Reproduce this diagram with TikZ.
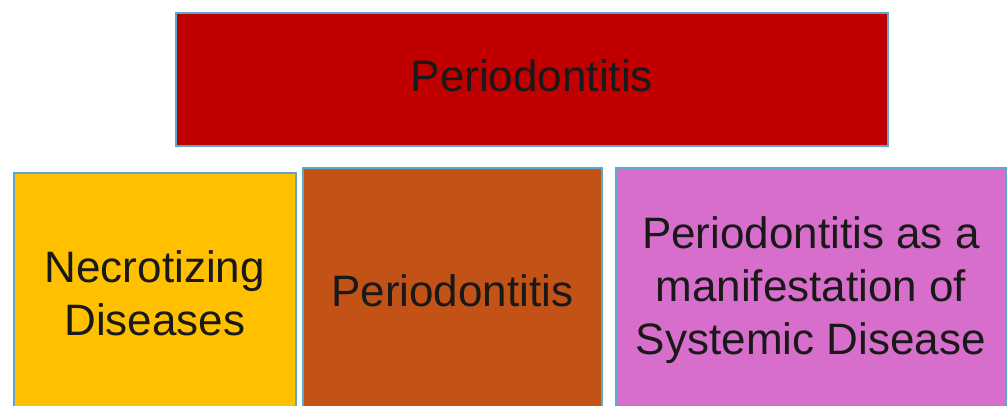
\documentclass[tikz,border=0pt]{standalone}
\usepackage{fontspec}
\setmainfont{Liberation Sans}
\usepackage{tikz}
\usetikzlibrary{positioning}

\definecolor{topred}{HTML}{C00000}
\definecolor{necroyellow}{HTML}{FFC000}
\definecolor{periobrown}{HTML}{C25216}
\definecolor{systpink}{HTML}{D86ECC}
\definecolor{edgeblue}{HTML}{5AA8CC}

\begin{document}
\begin{tikzpicture}[
  x=1pt, y=-1pt,
  box/.style={draw=edgeblue, line width=1.6pt, inner sep=0pt, align=center,
    font=\fontsize{44}{53}\selectfont, text=black!90}
]
\useasboundingbox (0,0) rectangle (1007,405);
\clip (0,0) rectangle (1007,405);
\node[box, fill=topred, minimum width=712pt, minimum height=133pt, anchor=north west] (perio) at (175,12) {};
\node (periolabel) at ([yshift=4pt]perio.center) [font=\fontsize{44}{53}\selectfont, text=black!90] {Periodontitis};
\node[box, fill=necroyellow, minimum width=282pt, minimum height=240pt, anchor=north west] (necro) at (13,172) {Necrotizing\\Diseases};
\node[box, fill=periobrown, minimum width=299pt, minimum height=245pt, anchor=north west] (periobox) at (302,167) {Periodontitis};
\node[box, fill=systpink, minimum width=390pt, minimum height=245pt, anchor=north west] (systemic) at (615,167) {Periodontitis as a\\manifestation of\\Systemic Disease};
\end{tikzpicture}
\end{document}
